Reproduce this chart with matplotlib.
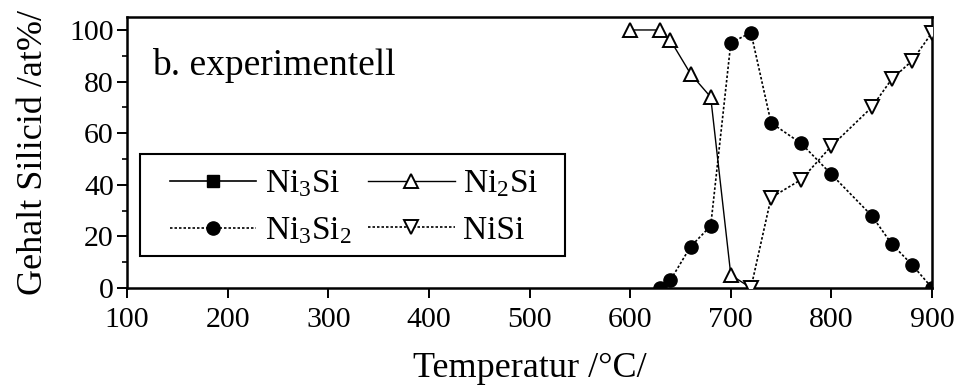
import matplotlib
matplotlib.use("Agg")
import matplotlib.pyplot as plt
import matplotlib.patches as mpatches
from matplotlib.ticker import MultipleLocator

plt.rcParams['font.family'] = ['Liberation Serif', 'DejaVu Serif']
plt.rcParams['mathtext.fontset'] = 'custom'
plt.rcParams['mathtext.rm'] = 'Liberation Serif'
plt.rcParams['mathtext.it'] = 'Liberation Serif:italic'

# Silicide content vs. annealing temperature (experimental)
t_ni3si = []
v_ni3si = []

t_ni2si = [600, 630, 640, 660, 680, 700, 720]
v_ni2si = [100, 100, 96, 83, 74, 5, 0]

t_ni3si2 = [630, 640, 660, 680, 700, 720, 740, 770, 800, 840, 860, 880, 900]
v_ni3si2 = [0, 3, 16, 24, 95, 99, 64, 56, 44, 28, 17, 9, 0]

t_nisi = [720, 740, 770, 800, 840, 860, 880, 900]
v_nisi = [0, 35, 42, 55, 70, 81, 88, 99]

xticks = [100, 200, 300, 400, 500, 600, 700, 800, 900]
yticks = [0, 20, 40, 60, 80, 100]

fig = plt.figure(figsize=(9.55, 3.88), dpi=100)
ax = fig.add_axes([0.133, 0.258, 0.843, 0.698])

h1, = ax.plot(t_ni3si, v_ni3si, color='black', lw=1.2, marker='s', ms=9,
              mfc='black', mec='black', label=r'Ni$_3$Si')
h3, = ax.plot(t_ni2si, v_ni2si, color='black', lw=1.0, marker='^', ms=10,
              mfc='white', mec='black', mew=1.4, label=r'Ni$_2$Si', zorder=3)
h2, = ax.plot(t_ni3si2, v_ni3si2, color='black', lw=1.2, ls=(0, (1.5, 1.2)),
              marker='o', ms=9.5, mfc='black', mec='black', label=r'Ni$_3$Si$_2$', zorder=4)
h4, = ax.plot(t_nisi, v_nisi, color='black', lw=1.2, ls=(0, (1.5, 1.2)),
              marker='v', ms=10, mfc='white', mec='black', mew=1.4, label='NiSi', zorder=3)

ax.set_xlim(100, 900)
ax.set_ylim(0, 105)
ax.set_xticks(xticks)
ax.set_yticks(yticks)
ax.yaxis.set_minor_locator(MultipleLocator(10))
ax.tick_params(axis='both', which='major', direction='out', length=7.5, width=1.4,
               labelsize=21.5)
ax.tick_params(axis='x', which='major', pad=6)
ax.tick_params(axis='y', which='major', pad=2)
ax.tick_params(axis='y', which='minor', direction='out', length=3.8, width=1.2)
ax.tick_params(top=False, right=False)
for s in ax.spines.values():
    s.set_linewidth(1.8)

ax.set_xlabel('Temperatur /°C/', fontsize=26, labelpad=14)
ax.set_ylabel('Gehalt Silicid /at%/', fontsize=26, labelpad=14)

ax.text(0.031, 0.786, 'b. experimentell', transform=ax.transAxes,
        fontsize=27, va='baseline', ha='left')

# legend box drawn separately so the inner padding can be set per side
box = mpatches.Rectangle((0.016, 0.118), 0.528, 0.376, transform=ax.transAxes,
                         fill=True, facecolor='white', edgecolor='black',
                         linewidth=1.5, zorder=5)
ax.add_patch(box)
leg = ax.legend(handles=[h1, h2, h3, h4], ncol=2, loc='upper left',
                bbox_to_anchor=(0.053, 0.44), borderaxespad=0, borderpad=0,
                fontsize=24, frameon=False,
                handlelength=2.6, handletextpad=0.25, columnspacing=0.5,
                labelspacing=0.48)
leg.set_zorder(6)

fig.savefig('out.png', dpi=100, facecolor='white')
